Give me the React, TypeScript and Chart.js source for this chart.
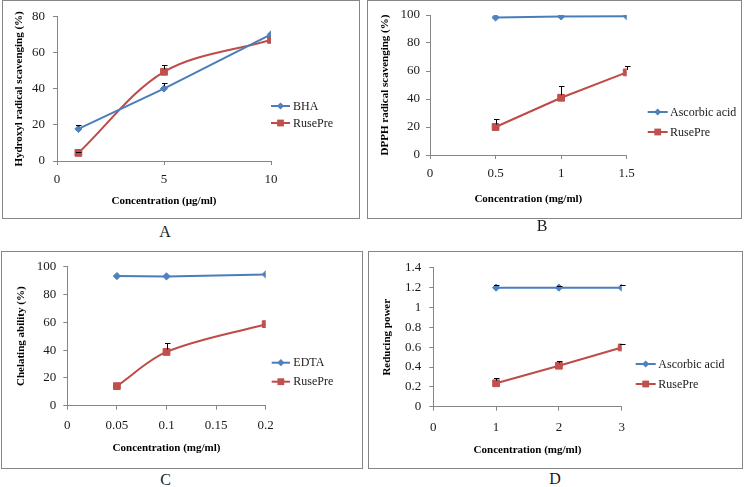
import React, { useEffect, useRef } from "react";
import { Chart, registerables } from "chart.js";

Chart.register(...registerables);

const SERIF = "'Liberation Serif', 'Times New Roman', serif";
const BLUE_LINE = "#4A7EBB";
const BLUE_FILL = "#4F81BD";
const RED_LINE = "#BE4B48";
const RED_FILL = "#C0504D";
const AXIS = "#868686";
const TEXT = "#1a1a1a";

// ---------- Panel A: hydroxyl radical scavenging ----------
const concA = [1, 5, 10];
const bhaA = [17.8, 40.2, 70.3];
const bhaErrA = [2.3, 3.0, 0];
const rusePreA = [4.5, 49.5, 67.2];
const rusePreErrA = [0.5, 4.0, 0];
const xTicksA = [0, 5, 10];
const yTicksA = [0, 20, 40, 60, 80];

// ---------- Panel B: DPPH radical scavenging ----------
const concB = [0.5, 1, 1.5];
const ascorbicB = [98.2, 99.0, 99.1];
const ascorbicErrB = [0, 0, 0];
const rusePreB = [20.0, 40.9, 59.0];
const rusePreErrB = [5.5, 8.3, 4.6];
const xTicksB = [0, 0.5, 1, 1.5];
const yTicksB = [0, 20, 40, 60, 80, 100];

// ---------- Panel C: chelating ability ----------
const concC = [0.05, 0.1, 0.2];
const edtaC = [93.3, 93.1, 94.5];
const edtaErrC = [0, 0, 0];
const rusePreC = [14.1, 38.7, 58.7];
const rusePreErrC = [0, 6.8, 0];
const xTicksC = [0, 0.05, 0.1, 0.15, 0.2];
const yTicksC = [0, 20, 40, 60, 80, 100];

// ---------- Panel D: reducing power ----------
const concD = [1, 2, 3];
const ascorbicD = [1.2, 1.2, 1.2];
const ascorbicErrD = [0.025, 0.02, 0.025];
const rusePreD = [0.236, 0.413, 0.597];
const rusePreErrD = [0.055, 0.05, 0.04];
const xTicksD = [0, 1, 2, 3];
const yTicksD = [0, 0.2, 0.4, 0.6, 0.8, 1, 1.2, 1.4];

type Series = {
  label: string;
  x: number[];
  y: number[];
  err: number[];
  kind: "blue" | "red";
  smooth: boolean;
};

type PanelCfg = {
  letter: string;
  box: { left: number; top: number; w: number; h: number };
  area: { left: number; top: number; right: number; bottom: number };
  xTicks: number[];
  yTicks: number[];
  xTitle: string;
  yTitle: string;
  yTitleX: number;
  xTitleY: number;
  xTickCenter: number;
  yTickPad: number;
  legend: { x0: number; x1: number; textX: number; ys: number[] };
  label: { cx: number; top: number };
  series: Series[];
};

const panels: PanelCfg[] = [
  {
    letter: "A",
    box: { left: 2, top: 0, w: 358, h: 219 },
    area: { left: 54, top: 11.3, right: 268, bottom: 160 },
    xTicks: xTicksA,
    yTicks: yTicksA,
    xTitle: "Concentration (µg/ml)",
    yTitle: "Hydroxyl radical scavenging (%)",
    yTitleX: 15.8,
    xTitleY: 200,
    xTickCenter: 19,
    yTickPad: 8,
    legend: { x0: 268, x1: 287, textX: 290, ys: [105, 122] },
    label: { cx: 165, top: 223 },
    series: [
      { label: "BHA", x: concA, y: bhaA, err: bhaErrA, kind: "blue", smooth: false },
      { label: "RusePre", x: concA, y: rusePreA, err: rusePreErrA, kind: "red", smooth: true },
    ],
  },
  {
    letter: "B",
    box: { left: 367, top: 0, w: 375, h: 219 },
    area: { left: 62, top: 14, right: 258.7, bottom: 154 },
    xTicks: xTicksB,
    yTicks: yTicksB,
    xTitle: "Concentration (mg/ml)",
    yTitle: "DPPH radical scavenging (%)",
    yTitleX: 17.5,
    xTitleY: 198,
    xTickCenter: 19,
    yTickPad: 6,
    legend: { x0: 279.7, x1: 299.7, textX: 302, ys: [111, 131] },
    label: { cx: 542, top: 217 },
    series: [
      { label: "Ascorbic acid", x: concB, y: ascorbicB, err: ascorbicErrB, kind: "blue", smooth: false },
      { label: "RusePre", x: concB, y: rusePreB, err: rusePreErrB, kind: "red", smooth: false },
    ],
  },
  {
    letter: "C",
    box: { left: 1, top: 251, w: 362, h: 218 },
    area: { left: 65.3, top: 12.3, right: 263.7, bottom: 153.7 },
    xTicks: xTicksC,
    yTicks: yTicksC,
    xTitle: "Concentration (mg/ml)",
    yTitle: "Chelating ability (%)",
    yTitleX: 18.8,
    xTitleY: 196.3,
    xTickCenter: 20.3,
    yTickPad: 7,
    legend: { x0: 269.7, x1: 288, textX: 291.3, ys: [110.7, 129.7] },
    label: { cx: 165.5, top: 471 },
    series: [
      { label: "EDTA", x: concC, y: edtaC, err: edtaErrC, kind: "blue", smooth: false },
      { label: "RusePre", x: concC, y: rusePreC, err: rusePreErrC, kind: "red", smooth: true },
    ],
  },
  {
    letter: "D",
    box: { left: 368, top: 251, w: 375, h: 218 },
    area: { left: 64.3, top: 12.3, right: 252.7, bottom: 154.7 },
    xTicks: xTicksD,
    yTicks: yTicksD,
    xTitle: "Concentration (mg/ml)",
    yTitle: "Reducing power",
    yTitleX: 18.5,
    xTitleY: 198,
    xTickCenter: 21.3,
    yTickPad: 8,
    legend: { x0: 266.7, x1: 286.7, textX: 289.3, ys: [112, 132] },
    label: { cx: 555, top: 470 },
    series: [
      { label: "Ascorbic acid", x: concD, y: ascorbicD, err: ascorbicErrD, kind: "blue", smooth: false },
      { label: "RusePre", x: concD, y: rusePreD, err: rusePreErrD, kind: "red", smooth: false },
    ],
  },
];

const fmt = (v: any) => String(parseFloat(Number(v).toFixed(4)));

function drawMarker(ctx: CanvasRenderingContext2D, kind: string, x: number, y: number) {
  ctx.beginPath();
  if (kind === "blue") {
    const r = 3.6;
    ctx.moveTo(x - r, y);
    ctx.lineTo(x, y - r);
    ctx.lineTo(x + r, y);
    ctx.lineTo(x, y + r);
    ctx.closePath();
    ctx.fillStyle = BLUE_FILL;
  } else {
    const s = 3.4;
    ctx.rect(x - s, y - s, 2 * s, 2 * s);
    ctx.fillStyle = RED_FILL;
  }
  ctx.fill();
}

function makeChart(canvas: HTMLCanvasElement, p: PanelCfg) {
  const W = p.box.w - 2;
  const H = p.box.h - 2;
  const TICK_SIZE = 13;
  const titleFont = { family: SERIF, size: 11, weight: "bold" as const, lineHeight: 1.2 };
  const tickFont = { family: SERIF, size: TICK_SIZE, lineHeight: 1.2 };
  const half = (11 * 1.2) / 2;
  const tickHalf = (TICK_SIZE * 1.2) / 2;

  const errorBars = {
    id: "errorBars",
    afterDatasetsDraw(chart: any) {
      const ctx = chart.ctx;
      const ys = chart.scales.y;
      chart.data.datasets.forEach((ds: any, i: number) => {
        const errs: number[] = ds.errors || [];
        const meta = chart.getDatasetMeta(i);
        meta.data.forEach((pt: any, j: number) => {
          const e = errs[j];
          if (!e) return;
          const v = ds.data[j].y;
          const top = Math.round(ys.getPixelForValue(v + e)) + 0.5;
          const x = Math.round(pt.x) + 0.5;
          const from = pt.y - 2.5;
          ctx.save();
          ctx.strokeStyle = "#000";
          ctx.lineWidth = 1;
          ctx.beginPath();
          if (top < from) {
            ctx.moveTo(x, from);
            ctx.lineTo(x, top);
          }
          ctx.moveTo(x - 2.5, top);
          ctx.lineTo(x + 3, top);
          ctx.stroke();
          ctx.restore();
        });
      });
    },
  };

  const sideLegend = {
    id: "sideLegend",
    afterDraw(chart: any) {
      const ctx = chart.ctx;
      ctx.save();
      p.series.forEach((s, i) => {
        const y = p.legend.ys[i];
        ctx.strokeStyle = s.kind === "blue" ? BLUE_LINE : RED_LINE;
        ctx.lineWidth = 2;
        ctx.beginPath();
        ctx.moveTo(p.legend.x0, y);
        ctx.lineTo(p.legend.x1, y);
        ctx.stroke();
        drawMarker(ctx, s.kind, (p.legend.x0 + p.legend.x1) / 2, y);
        ctx.fillStyle = TEXT;
        ctx.font = `12px ${SERIF}`;
        ctx.textAlign = "left";
        ctx.textBaseline = "middle";
        ctx.fillText(s.label, p.legend.textX, y + 0.5);
      });
      ctx.restore();
    },
  };

  const xMin = p.xTicks[0];
  const xMax = p.xTicks[p.xTicks.length - 1];
  const yMin = p.yTicks[0];
  const yMax = p.yTicks[p.yTicks.length - 1];

  return new Chart(canvas, {
    type: "line",
    data: {
      datasets: p.series.map((s) => ({
        label: s.label,
        data: s.x.map((x, i) => ({ x, y: s.y[i] })),
        borderColor: s.kind === "blue" ? BLUE_LINE : RED_LINE,
        backgroundColor: s.kind === "blue" ? BLUE_FILL : RED_FILL,
        pointBackgroundColor: s.kind === "blue" ? BLUE_FILL : RED_FILL,
        pointBorderColor: s.kind === "blue" ? BLUE_FILL : RED_FILL,
        pointStyle: s.kind === "blue" ? "rectRot" : "rect",
        pointRadius: s.kind === "blue" ? 3.6 : 4.8,
        pointBorderWidth: 1,
        borderWidth: 2,
        tension: s.smooth ? 0.33 : 0,
        fill: false,
        errors: s.err,
      })) as any,
    },
    options: {
      responsive: false,
      animation: false,
      events: [],
      layout: {
        padding: { left: 0, top: p.area.top, right: W - p.area.right, bottom: 0 },
      },
      plugins: {
        legend: { display: false },
        tooltip: { enabled: false },
      },
      scales: {
        x: {
          type: "linear",
          min: xMin,
          max: xMax,
          afterBuildTicks: (sc: any) => {
            sc.ticks = p.xTicks.map((v) => ({ value: v }));
          },
          afterFit: (sc: any) => {
            sc.height = H - p.area.bottom;
          },
          grid: { display: true, drawOnChartArea: false, drawTicks: true, tickLength: 4, color: AXIS },
          border: { display: true, color: AXIS, width: 1 },
          ticks: {
            font: tickFont,
            color: TEXT,
            padding: p.xTickCenter - 4 - tickHalf,
            autoSkip: false,
            maxRotation: 0,
            callback: fmt,
          },
          title: {
            display: true,
            text: p.xTitle,
            color: "#000",
            font: titleFont,
            padding: { top: 0, bottom: H - p.xTitleY - half },
          },
        },
        y: {
          type: "linear",
          min: yMin,
          max: yMax,
          afterBuildTicks: (sc: any) => {
            sc.ticks = p.yTicks.map((v) => ({ value: v }));
          },
          afterFit: (sc: any) => {
            sc.width = p.area.left;
          },
          grid: { display: true, drawOnChartArea: false, drawTicks: true, tickLength: 4, color: AXIS },
          border: { display: true, color: AXIS, width: 1 },
          ticks: {
            font: tickFont,
            color: TEXT,
            padding: p.yTickPad,
            autoSkip: false,
            callback: fmt,
          },
          title: {
            display: true,
            text: p.yTitle,
            color: "#000",
            font: titleFont,
            padding: { top: p.yTitleX - half, bottom: 0 },
          },
        },
      },
    } as any,
    plugins: [errorBars, sideLegend],
  });
}

function Panel({ p }: { p: PanelCfg }) {
  const ref = useRef<HTMLCanvasElement | null>(null);
  useEffect(() => {
    if (!ref.current) return;
    const chart = makeChart(ref.current, p);
    return () => chart.destroy();
  }, [p]);
  return (
    <>
      <div
        style={{
          position: "absolute",
          left: p.box.left,
          top: p.box.top,
          width: p.box.w - 2,
          height: p.box.h - 2,
          border: `1px solid ${AXIS}`,
          background: "#fff",
        }}
      >
        <canvas
          ref={ref}
          width={p.box.w - 2}
          height={p.box.h - 2}
          style={{ display: "block", width: p.box.w - 2, height: p.box.h - 2 }}
        />
      </div>
      <div
        style={{
          position: "absolute",
          left: p.label.cx - 20,
          top: p.label.top,
          width: 40,
          textAlign: "center",
          fontFamily: SERIF,
          fontSize: 16,
          lineHeight: "normal",
          color: TEXT,
        }}
      >
        {p.letter}
      </div>
    </>
  );
}

export default function App() {
  return (
    <div
      style={{
        position: "absolute",
        left: 0,
        top: 0,
        width: 745,
        height: 487,
        background: "#fff",
        overflow: "hidden",
      }}
    >
      {panels.map((p) => (
        <Panel key={p.letter} p={p} />
      ))}
    </div>
  );
}
